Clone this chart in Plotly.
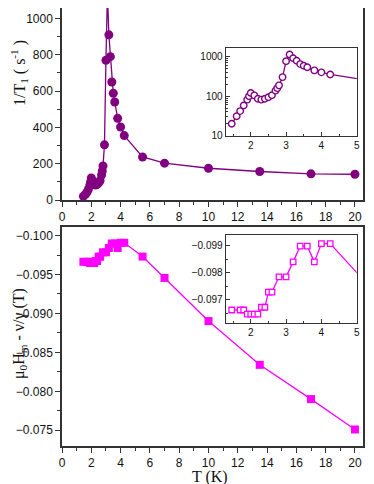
import plotly.graph_objects as go

# 1/T1 data
T1_T = [1.46, 1.6, 1.7, 1.8, 1.9, 1.95, 2.0, 2.1, 2.2, 2.3, 2.4, 2.5, 2.6, 2.7, 2.75, 2.8, 2.9,
        3.0, 3.1, 3.2, 3.3, 3.4, 3.5, 3.6, 3.8, 4.0, 4.25, 5.5, 7.0, 10.0, 13.5, 17.0, 20.0]
T1_rate = [20, 31, 42, 58, 82, 100, 121, 105, 86, 82, 86, 94, 106, 138, 160, 188, 304,
           770, 1140, 910, 790, 650, 588, 540, 450, 402, 355, 237, 203, 175, 157, 144, 142]

# resonance field shift data
H_T = [1.46, 1.7, 1.8, 1.9, 2.0, 2.1, 2.2, 2.3, 2.4, 2.5, 2.6, 2.8, 3.0, 3.2, 3.4, 3.6, 3.8,
       4.0, 4.25, 5.5, 7.0, 10.0, 13.5, 17.0, 20.0]
H_shift = [-0.09663, -0.09663, -0.09663, -0.09648, -0.09648, -0.09648, -0.09648, -0.09673,
           -0.09673, -0.09729, -0.09729, -0.09785, -0.09785, -0.0984, -0.09898, -0.09898,
           -0.0984, -0.09907, -0.09907, -0.0973, -0.09456, -0.08902, -0.0834, -0.0790, -0.0751]

PURPLE = "#800080"
MAGENTA = "#FF00FF"
AX = "#333333"
TF = dict(family="Liberation Sans, Arial", size=12, color="#111")
TFs = dict(family="Liberation Sans, Arial", size=10, color="#111")
SERIF = dict(family="Liberation Serif, Times New Roman", size=16, color="#111")

W, H = 366, 476          # page body has an 8px margin
L, R, T, B = 54, 11, 0, 38
PW, PH = W - L - R, H - T - B


def px_x(p):  # page pixel -> paper x
    return (p - 8 - L) / PW


def px_y(p):  # page pixel -> paper y
    return 1 - (p - 8 - T) / PH


fig = go.Figure()
fig.add_trace(go.Scatter(x=T1_T, y=T1_rate, mode="lines+markers", xaxis="x", yaxis="y",
                         line=dict(color=PURPLE, width=1.3),
                         marker=dict(color=PURPLE, size=9, symbol="circle")))
fig.add_trace(go.Scatter(x=H_T, y=H_shift, mode="lines+markers", xaxis="x2", yaxis="y2",
                         line=dict(color=MAGENTA, width=1.3),
                         marker=dict(color=MAGENTA, size=8, symbol="square")))
fig.add_trace(go.Scatter(x=T1_T, y=T1_rate, mode="lines+markers", xaxis="x3", yaxis="y3",
                         line=dict(color=PURPLE, width=1.3),
                         marker=dict(color="white", size=6.5, symbol="circle",
                                     line=dict(color=PURPLE, width=1.4))))
fig.add_trace(go.Scatter(x=H_T, y=H_shift, mode="lines+markers", xaxis="x4", yaxis="y4",
                         line=dict(color=MAGENTA, width=1.3),
                         marker=dict(color="white", size=5.5, symbol="square",
                                     line=dict(color=MAGENTA, width=1.3))))

main_x = dict(range=[0, 20.55], dtick=2, tick0=0, ticks="outside", ticklen=5, tickwidth=1.3,
              tickcolor=AX, showline=True, linecolor=AX, linewidth=1.5, showgrid=False,
              zeroline=False, tickfont=TF, automargin=False,
              minor=dict(dtick=1, ticks="outside", ticklen=3, tickcolor=AX, showgrid=False))
inset_x = dict(range=[1.29, 5], tickvals=[2, 3, 4, 5], ticks="inside", ticklen=4, tickwidth=1,
               tickcolor=AX, showline=True, linecolor=AX, linewidth=1.2, mirror=True,
               showgrid=False, zeroline=False, tickfont=TFs, automargin=False,
               minor=dict(dtick=0.5, tick0=0, ticks="inside", ticklen=2, tickcolor=AX, showgrid=False))

fig.update_layout(
    width=W, height=H, margin=dict(l=L, r=R, t=T, b=B),
    paper_bgcolor="white", plot_bgcolor="white", showlegend=False,
    xaxis=dict(main_x, domain=[0, 1], anchor="y"),
    yaxis=dict(domain=[px_y(200), 1], anchor="x", range=[0, 1058], dtick=200, ticks="outside",
               ticklen=5, tickwidth=1.3, tickcolor=AX, showline=True, linecolor=AX,
               linewidth=1.5, mirror=True, showgrid=False, zeroline=False, tickfont=TF,
               automargin=False,
               minor=dict(dtick=100, ticks="outside", ticklen=3, tickcolor=AX, showgrid=False)),
    xaxis2=dict(main_x, domain=[0, 1], anchor="y2", mirror=True),
    yaxis2=dict(domain=[0, px_y(227)], anchor="x2", range=[-0.07298, -0.1011], dtick=0.005,
                tick0=-0.1, tickformat=".3f", ticks="outside", ticklen=5, tickwidth=1.3,
                tickcolor=AX, showline=True, linecolor=AX, linewidth=1.5, mirror=True,
                showgrid=False, zeroline=False, tickfont=TF, automargin=False,
                minor=dict(dtick=0.0025, tick0=-0.1, ticks="outside", ticklen=3, tickcolor=AX,
                           showgrid=False)),
    xaxis3=dict(inset_x, domain=[px_x(225.7), px_x(356.7)], anchor="y3"),
    yaxis3=dict(domain=[px_y(135.7), px_y(48)], anchor="x3", type="log", range=[1, 3.22],
                tickvals=[10, 100, 1000], ticks="inside", ticklen=4, tickwidth=1, tickcolor=AX,
                showline=True, linecolor=AX, linewidth=1.2, mirror=True, showgrid=False,
                zeroline=False, tickfont=TFs, automargin=False,
                minor=dict(dtick="D1", ticks="inside", ticklen=2, tickcolor=AX, showgrid=False)),
    xaxis4=dict(inset_x, domain=[px_x(225.7), px_x(356.7)], anchor="y4"),
    yaxis4=dict(domain=[px_y(323.3), px_y(234.7)], anchor="x4", range=[-0.09614, -0.0994],
                tickvals=[-0.099, -0.098, -0.097], tickformat=".3f", ticks="inside", ticklen=4,
                tickwidth=1, tickcolor=AX, showline=True, linecolor=AX, linewidth=1.2,
                mirror=True, showgrid=False, zeroline=False, tickfont=TFs, automargin=False,
                minor=dict(dtick=0.0005, tick0=-0.1, ticks="inside", ticklen=2, tickcolor=AX,
                           showgrid=False)),
    annotations=[
        dict(text="1/T<sub>1</sub> ( s<sup>-1</sup> )", xref="paper", yref="paper",
             x=px_x(19), y=px_y(73), textangle=-90, showarrow=False,
             xanchor="center", yanchor="middle", font=SERIF),
        dict(text="μ<sub>0</sub>H<sub>m</sub> - ν/γ (T)", xref="paper", yref="paper",
             x=px_x(19), y=px_y(334), textangle=-90, showarrow=False,
             xanchor="center", yanchor="middle", font=SERIF),
        dict(text="T (K)", xref="paper", yref="paper",
             x=px_x(210), y=px_y(476.5), showarrow=False, borderpad=0,
             xanchor="center", yanchor="middle", font=SERIF),
    ],
)

fig.write_html("out.html")
